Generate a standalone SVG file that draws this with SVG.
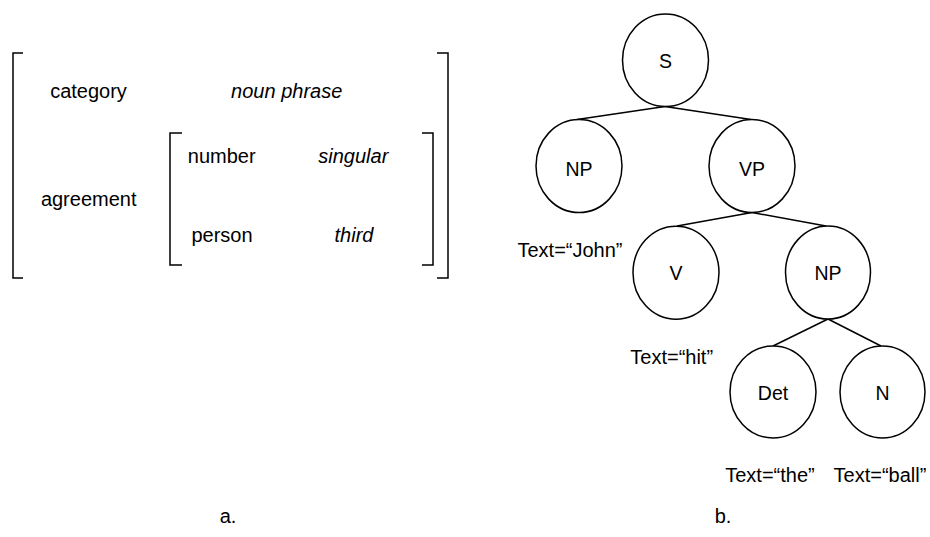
<svg xmlns="http://www.w3.org/2000/svg" width="930" height="537" viewBox="0 0 930 537">
<style>
  text { font-family: "Liberation Sans", Arial, sans-serif; font-size: 20px; fill: #000; }
  .it { font-style: italic; }
  .lbl { text-anchor: middle; font-size: 19.5px; }
  .mid { text-anchor: middle; }
  .node { fill: #fff; stroke: #000; stroke-width: 1.5; }
  .edge { stroke: #000; stroke-width: 1.5; fill: none; }
  .br { stroke: #000; stroke-width: 1.5; fill: none; }
</style>
<rect width="930" height="537" fill="#fff"/>
<g id="feature-structure">
  <path class="br" d="M23,53 H13 V278 H23"/>
  <path class="br" d="M437,53 H448 V278 H437"/>
  <path class="br" d="M182,133 H170 V265 H182"/>
  <path class="br" d="M422,133 H433 V265 H422"/>
  <text class="mid" x="88.5" y="98">category</text>
  <text class="mid it" x="286.7" y="98">noun phrase</text>
  <text class="mid" x="88.7" y="206">agreement</text>
  <text class="mid" x="221.7" y="163">number</text>
  <text class="mid it" x="353.3" y="163">singular</text>
  <text class="mid" x="222" y="242">person</text>
  <text class="mid it" x="354" y="242">third</text>
  <text class="mid" x="228" y="523">a.</text>
</g>
<g id="connectors">
  <line class="edge" x1="665" y1="106.5" x2="577" y2="119.5"/>
  <line class="edge" x1="665" y1="106.5" x2="751" y2="119.5"/>
  <line class="edge" x1="752" y1="212.5" x2="677" y2="226"/>
  <line class="edge" x1="752" y1="212.5" x2="826" y2="226"/>
  <line class="edge" x1="828" y1="319" x2="773" y2="346"/>
  <line class="edge" x1="828" y1="319" x2="881" y2="346"/>
</g>
<g id="node-S">
  <ellipse class="node" cx="665.5" cy="60.3" rx="43" ry="46.3"/>
  <text class="lbl" x="665.5" y="68">S</text>
</g>
<g id="node-NP1">
  <ellipse class="node" cx="579" cy="166" rx="43" ry="46.5"/>
  <text class="lbl" x="579" y="175.5">NP</text>
</g>
<g id="node-VP">
  <ellipse class="node" cx="752" cy="166" rx="43" ry="46.5"/>
  <text class="lbl" x="752" y="175.5">VP</text>
</g>
<g id="node-V">
  <ellipse class="node" cx="676" cy="272.7" rx="43" ry="46.5"/>
  <text class="lbl" x="676" y="280">V</text>
</g>
<g id="node-NP2">
  <ellipse class="node" cx="828" cy="272.5" rx="42.5" ry="46.5"/>
  <text class="lbl" x="828" y="280">NP</text>
</g>
<g id="node-Det">
  <ellipse class="node" cx="773" cy="392" rx="43" ry="46"/>
  <text class="lbl" x="773" y="400">Det</text>
</g>
<g id="node-N">
  <ellipse class="node" cx="882.5" cy="392" rx="42.5" ry="46"/>
  <text class="lbl" x="882.5" y="400">N</text>
</g>
<g id="annotations">
  <text class="mid" x="570" y="257">Text=“John”</text>
  <text class="mid" x="671.7" y="364">Text=“hit”</text>
  <text class="mid" x="770" y="482">Text=“the”</text>
  <text class="mid" x="880" y="482">Text=“ball”</text>
  <text class="mid" x="723" y="523">b.</text>
</g>
</svg>
